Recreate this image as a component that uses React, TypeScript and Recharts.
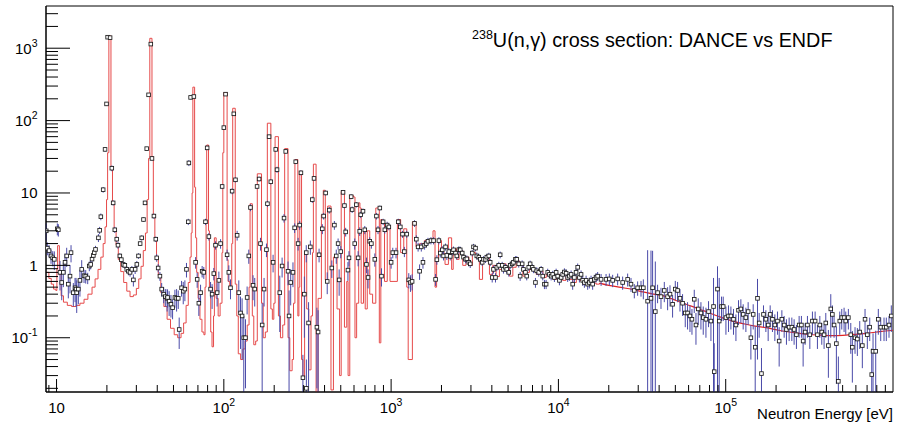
import React from 'react';
import { ComposedChart, Line, Scatter, ErrorBar, XAxis, YAxis, ReferenceArea } from 'recharts';

const X_MIN = 8.65;
const X_MAX = 1.0e6;
const Y_MIN = 0.0178;
const Y_MAX = 3830;
const PLOT_LEFT = 46;
const PLOT_BOTTOM = 392;

// ENDF evaluation, resolved range: bin start energy [eV], capture cross section [b]
const endfResolved: [number, number][] = [
  [8.65, 0.8], [9.0, 0.66], [9.3, 0.55], [9.6, 0.47], [9.9, 0.45], [10.05, 0.9], [10.15, 1.87], [10.4, 0.75],
  [10.65, 0.38], [11.0, 0.31], [11.6, 0.28], [12.3, 0.27], [13.1, 0.28], [13.8, 0.3], [14.6, 0.34], [15.4, 0.4],
  [16.3, 0.5], [17.0, 0.65], [17.7, 0.88], [18.4, 1.3], [19.0, 2.0], [19.5, 3.4], [19.9, 8.1], [20.2, 36],
  [20.55, 1480], [21.15, 23], [21.6, 7.4], [22.1, 3.1], [22.7, 1.9], [23.4, 1.2], [24.2, 0.82], [25.2, 0.58],
  [26.3, 0.44], [27.5, 0.37], [28.8, 0.39], [30.0, 0.48], [31.0, 0.65], [32.0, 0.97], [33.0, 1.6], [34.0, 2.8],
  [34.8, 8.1], [35.5, 30], [36.1, 1370], [37.2, 31.8], [37.9, 4.8], [38.7, 2.3], [39.6, 1.25], [40.6, 0.72],
  [42.0, 0.42], [43.8, 0.27], [45.8, 0.18], [48.0, 0.135], [50.5, 0.11], [53.0, 0.1], [55.5, 0.115], [57.5, 0.16],
  [59.5, 0.28], [61.3, 0.58], [62.8, 1.3], [63.8, 2.8], [64.6, 10], [65.3, 290], [66.9, 12], [67.8, 2.4],
  [68.8, 0.8], [70.2, 0.35], [72.0, 0.18], [74.0, 0.12], [76.0, 0.11], [77.2, 0.5], [78.3, 4.0], [79.0, 46],
  [81.0, 3.0], [82.0, 0.5], [83.5, 0.12], [85.0, 0.075], [86.8, 0.2], [87.8, 2.4], [90.0, 0.35], [92.5, 0.2],
  [95.0, 0.3], [97.5, 1.5], [98.6, 36], [100.0, 244], [104.6, 1.2], [106.0, 0.6], [108.5, 0.5], [111.5, 2.0],
  [113.0, 148], [117.0, 0.55], [119.5, 0.2], [122.0, 0.06], [126.0, 0.05], [130.0, 0.07], [134.0, 0.09], [138.0, 0.15],
  [141.5, 0.5], [143.5, 7.1], [148.0, 0.2], [151.0, 0.08], [155.0, 0.09], [158.5, 18.4], [168.0, 0.3], [172.0, 0.1],
  [177.0, 0.12], [182.0, 92], [191.0, 0.25], [195.0, 0.18], [199.0, 0.3], [202.5, 60], [212.0, 0.2], [218.0, 0.1],
  [225.0, 0.15], [231.0, 41], [242.0, 0.1], [248.0, 0.035], [256.0, 0.05], [261.0, 0.3], [266.0, 29], [277.0, 0.2],
  [281.0, 0.5], [284.5, 20], [291.5, 0.05], [297.0, 0.027], [304.0, 1.5], [313.0, 0.25], [322.0, 0.036], [332.0, 0.2],
  [339.0, 1.5], [343.0, 25], [356.0, 0.015], [366.0, 0.35], [383.0, 5.0], [393.0, 10.9], [404.0, 0.63], [418.0, 6.6],
  [437.0, 0.019], [452.0, 1.3], [475.0, 0.25], [492.0, 0.03], [503.0, 10.5], [526.0, 0.14], [543.0, 0.6], [553.0, 0.03],
  [566.0, 9.2], [595.0, 8.8], [608.0, 0.1], [622.0, 0.3], [640.0, 7.3], [651.0, 6.2], [662.0, 0.3], [684.0, 3.0],
  [700.0, 0.25], [720.0, 3.0], [745.0, 0.4], [775.0, 0.3], [810.0, 6.2], [850.0, 0.085], [868.0, 4.3], [884.0, 4.1],
  [913.0, 0.6], [948.0, 3.5], [985.0, 0.6], [1090, 4.3], [1140, 1.5], [1190, 3.2], [1240, 0.5], [1265, 0.05],
  [1340, 4.0], [1410, 1.8], [1480, 2.0], [1580, 2.2], [1690, 2.2], [1780, 3.0], [1830, 0.5], [1870, 1.2],
  [1920, 2.2], [2000, 1.48], [2100, 1.03], [2200, 2.4], [2300, 0.88], [2350, 1.7], [2460, 1.21], [2550, 1.6],
  [2680, 1.0], [2800, 1.3], [2920, 1.0], [3060, 1.5], [3200, 1.35], [3370, 0.64], [3520, 1.21], [3690, 1.35],
  [3870, 0.75], [4050, 1.0], [4240, 0.7], [4440, 0.88], [4650, 1.05], [4870, 0.94], [5100, 0.71], [5340, 0.94],
  [5590, 1.15], [5850, 1.05], [6130, 0.71], [6420, 0.8], [6720, 0.88], [7040, 0.84], [7370, 0.75], [7710, 0.84],
  [8080, 0.68], [8460, 0.78], [8860, 0.71], [9280, 0.64], [9720, 0.75], [10200, 0.68], [10600, 0.62], [11100, 0.71],
  [11600, 0.64], [12200, 0.58], [12800, 0.68], [13300, 0.62], [14000, 0.55], [14600, 0.62], [15300, 0.58], [16000, 0.57],
  [16800, 0.55], [17600, 0.57],
];

// ENDF evaluation, unresolved / fast range: energy [eV], cross section [b]
const endfSmooth: [number, number][] = [
  [17600, 0.57], [20000, 0.53], [23000, 0.5], [27800, 0.465], [32000, 0.43], [37000, 0.4], [44000, 0.37],
  [50000, 0.33], [58000, 0.29], [69500, 0.25], [80000, 0.22], [92000, 0.195], [110000, 0.17], [130000, 0.155],
  [150000, 0.145], [174000, 0.138], [210000, 0.126], [240000, 0.12], [275000, 0.115], [330000, 0.11], [380000, 0.108],
  [435000, 0.107], [500000, 0.108], [580000, 0.111], [687000, 0.115], [800000, 0.12], [900000, 0.124], [1000000, 0.127],
];

// DANCE measurement: energy [eV], cross section [b], uncertainty [b]
const danceLow: [number, number, number][] = [
  [8.68, 3.0, 0.8], [8.81, 1.73, 0.35], [9.02, 1.6, 0.3], [9.27, 1.35, 0.3], [9.49, 1.27, 0.3], [9.7, 1.21, 0.35],
  [10.11, 3.2, 0.6], [10.25, 3.1, 0.6], [10.49, 0.8, 0.35], [10.74, 0.58, 0.25], [10.98, 0.8, 0.3], [11.24, 1.1, 0.35],
  [11.5, 1.35, 0.4], [11.76, 0.55, 0.2], [12.04, 0.71, 0.3], [12.21, 1.5, 0.4], [12.6, 0.42, 0.15], [12.9, 0.49, 0.18],
  [13.08, 0.47, 0.2], [13.2, 0.42, 0.2], [13.5, 0.47, 0.18], [13.8, 0.62, 0.25], [14.14, 0.88, 0.3], [14.6, 0.72, 0.15],
  [14.94, 0.71, 0.15], [15.36, 0.67, 0.12], [15.7, 0.98, 0.15], [16.0, 1.03, 0.15], [16.3, 1.22, 0.18], [16.6, 1.37, 0.2],
  [16.8, 1.5, 0.2], [17.1, 1.66, 0.2], [17.8, 2.4, 0.3], [18.1, 3.05, 0.35], [18.4, 4.7, 0.5], [19.0, 11.1, 1.0],
  [19.5, 40, 3], [19.9, 170, 10], [20.2, 1420, 60], [20.9, 1400, 60], [21.4, 22, 2], [21.8, 7.3, 0.6],
  [22.3, 3.1, 0.3], [22.9, 2.3, 0.2], [23.3, 1.9, 0.2], [23.9, 1.35, 0.12], [24.4, 1.2, 0.12], [25.0, 1.03, 0.1],
  [25.6, 1.0, 0.1], [26.3, 0.88, 0.1], [26.9, 0.83, 0.1], [27.5, 0.8, 0.1], [28.2, 0.88, 0.1], [28.8, 0.63, 0.12],
  [29.5, 0.88, 0.12], [30.2, 1.03, 0.12], [30.9, 1.35, 0.12], [31.6, 2.0, 0.15], [32.3, 2.4, 0.2], [33.1, 4.3, 0.3],
  [33.8, 7.3, 0.5], [34.6, 41, 2], [35.5, 227, 10], [36.6, 1140, 50], [37.2, 30, 2], [38.2, 4.8, 0.4],
  [39.2, 2.3, 0.2], [39.7, 1.27, 0.15], [40.5, 0.92, 0.12], [41.5, 0.71, 0.1], [42.5, 0.47, 0.1], [43.7, 0.4, 0.1],
  [44.7, 0.37, 0.1], [45.8, 0.35, 0.12], [46.1, 0.36, 0.1], [47.1, 0.32, 0.12], [48.3, 0.29, 0.1], [49.4, 0.26, 0.08],
  [51.0, 0.36, 0.1], [52.2, 0.35, 0.12], [53.4, 0.35, 0.1], [54.1, 0.13, 0.06], [55.9, 0.49, 0.12], [57.2, 0.44, 0.15],
  [58.5, 0.47, 0.15], [59.8, 0.88, 0.2], [61.3, 4.0, 0.4],
];

const danceMid: [number, number, number][] = [
  [61.8, 26, 2.5], [63.3, 209, 12], [66.2, 215, 12], [67.8, 1.1, 0.2], [69.3, 0.64, 0.15], [70.9, 0.3, 0.1],
  [72.6, 0.42, 0.12], [74.2, 0.83, 0.15], [75.9, 0.8, 0.15], [77.7, 4.0, 0.4], [79.5, 42, 3], [81.4, 2.5, 0.3],
  [83.3, 0.47, 0.12], [85.1, 0.4, 0.15], [87.1, 0.77, 0.15], [89.2, 1.9, 0.25], [91.2, 0.42, 0.15], [93.4, 0.62, 0.2],
  [95.6, 2.0, 0.3], [97.7, 12.3, 1.0], [100, 80, 5], [102.4, 232, 12], [104.6, 1.4, 0.25], [107.1, 0.8, 0.2],
  [109.6, 0.49, 0.15], [112.1, 10.6, 1.0], [114.7, 124, 8], [117.4, 15.2, 1.2], [120.1, 2.6, 0.4], [122.9, 0.42, 0.2],
  [125.8, 0.22, 0.15], [128.6, 0.2, 0.15], [131.6, 0.1, 0.1], [134.7, 0.1, 0.08], [137.8, 0.36, 0.15], [141, 1.35, 0.3],
  [144.3, 6.3, 0.7], [149.5, 0.53, 0.2], [153, 0.47, 0.2], [158, 12.3, 1.0], [162.5, 15.6, 1.2], [165.6, 2.0, 0.4],
  [169.5, 0.15, 0.15], [174, 0.47, 0.2], [179.8, 1.65, 0.35], [182.3, 7.1, 0.7], [186.4, 60, 4], [190.9, 14.3, 1.2],
  [197, 1.1, 0.3], [204.3, 40, 3], [208, 21, 2], [216, 0.42, 0.3], [223, 0.98, 0.3], [229, 4.5, 0.6],
  [234.4, 37.5, 2.5], [242, 0.83, 0.3], [245.4, 0.2, 0.25], [251, 0.58, 0.3], [259, 0.8, 0.3], [265, 3.3, 0.5],
  [269, 27, 2], [278, 2.0, 0.4],
];

const danceHigh: [number, number, number][] = [
  [284, 3.6, 0.5], [289, 19, 1.5], [297, 0.028, 0.03], [303, 0.4, 0.3], [311, 1.5, 0.4], [311.5, 0.02, 0.03],
  [321, 0.16, 0.15], [329, 1.8, 0.4], [338, 8.1, 0.8], [346, 15.9, 1.2], [360, 0.14, 0.12], [366, 0.12, 0.12],
  [371, 1.4, 0.3], [388, 3.2, 0.5], [395, 4.8, 0.5], [406, 10, 0.8], [415, 0.6, 0.2], [427, 5.8, 0.6],
  [442, 0.92, 0.25], [458, 3.6, 0.5], [470, 1.35, 0.3], [482, 2.0, 0.35], [489, 0.63, 0.25], [500, 1.55, 0.3],
  [516, 10.2, 0.8], [526, 6.7, 0.6], [535, 2.9, 0.4], [552, 0.86, 0.25], [560, 1.27, 0.3], [577, 8.9, 0.7],
  [585, 5.9, 0.6], [606, 2.0, 0.35], [620, 6.9, 0.6], [635, 1.27, 0.3], [649, 2.95, 0.4], [658, 5.0, 0.5],
  [679, 5.6, 0.5], [696, 3.1, 0.4], [712, 1.03, 0.25], [728, 0.68, 0.2], [745, 2.15, 0.3], [762, 2.0, 0.3],
  [799, 1.21, 0.25], [817, 4.8, 0.5], [835, 3.1, 0.4], [856, 6.2, 0.5], [876, 0.71, 0.2], [896, 4.0, 0.4],
  [917, 3.1, 0.35], [947, 3.6, 0.4], [969, 3.4, 0.35], [1000, 1.1, 0.2], [1023, 1.5, 0.25], [1070, 1.5, 0.25],
  [1104, 4.0, 0.4], [1135, 3.4, 0.35], [1170, 2.7, 0.3], [1200, 1.55, 0.25], [1240, 2.7, 0.3], [1275, 0.63, 0.15],
  [1305, 0.58, 0.15], [1335, 0.6, 0.15], [1380, 3.8, 0.4], [1415, 2.3, 0.3], [1450, 1.8, 0.25], [1480, 0.83, 0.2],
  [1515, 1.8, 0.25], [1550, 1.1, 0.2], [1585, 1.9, 0.25], [1620, 2.0, 0.25], [1660, 2.15, 0.25],
];

const danceKeV: [number, number, number][] = [
  [1730, 2.2, 0.25], [1793, 2.2, 0.25], [1844, 0.64, 0.12], [1877, 1.2, 0.18], [1930, 2.2, 0.25], [1967, 1.48, 0.2],
  [2022, 1.64, 0.2], [2058, 1.35, 0.18], [2115, 1.8, 0.2], [2153, 1.37, 0.18], [2213, 1.55, 0.18], [2256, 1.33, 0.16],
  [2320, 1.55, 0.18], [2361, 1.64, 0.18], [2427, 1.48, 0.16], [2470, 1.35, 0.15], [2540, 1.65, 0.18], [2589, 1.64, 0.17],
  [2661, 1.48, 0.16], [2709, 1.3, 0.15], [2785, 1.21, 0.14], [2835, 1.23, 0.14], [2914, 1.1, 0.13], [2971, 1.05, 0.13],
  [3053, 1.48, 0.15], [3108, 1.8, 0.18], [3195, 1.73, 0.17], [3252, 1.35, 0.15], [3343, 1.3, 0.14], [3408, 1.21, 0.13],
  [3503, 1.1, 0.12], [3566, 1.21, 0.13], [3666, 1.21, 0.13], [3732, 1.3, 0.14], [3836, 1.35, 0.14], [3910, 1.1, 0.12],
  [4020, 0.68, 0.1], [4092, 0.88, 0.11], [4206, 0.68, 0.1], [4282, 0.94, 0.11], [4401, 1.0, 0.12], [4486, 1.4, 0.15],
  [4612, 1.0, 0.12], [4694, 0.88, 0.11], [4826, 0.94, 0.11], [4912, 0.88, 0.11], [5050, 0.8, 0.1], [5147, 1.0, 0.12],
  [5291, 1.05, 0.12], [5386, 1.1, 0.12], [5537, 1.21, 0.13], [5636, 1.21, 0.13], [5794, 1.05, 0.12], [5906, 0.71, 0.1],
  [6071, 1.05, 0.12], [6180, 0.88, 0.1], [6353, 0.8, 0.1], [6467, 0.71, 0.09], [6648, 0.94, 0.1], [6776, 1.05, 0.11],
  [6966, 0.94, 0.1], [7091, 0.88, 0.1], [7290, 0.58, 0.09], [7420, 0.84, 0.1], [7628, 0.8, 0.1], [7883, 0.88, 0.1],
  [8059, 0.71, 0.09], [8249, 0.55, 0.08], [8445, 0.55, 0.08], [8632, 0.8, 0.1], [8838, 0.75, 0.09], [9046, 0.71, 0.09],
  [9248, 0.75, 0.09], [9465, 0.68, 0.09], [9690, 0.8, 0.1], [9904, 0.71, 0.09], [10140, 0.62, 0.09], [10378, 0.68, 0.09],
  [10610, 0.75, 0.1], [10860, 0.81, 0.1], [11120, 0.78, 0.1], [11360, 0.68, 0.09], [11630, 0.71, 0.1], [11910, 0.75, 0.1],
  [12170, 0.55, 0.09], [12460, 0.68, 0.1], [12750, 0.8, 0.1], [13040, 0.94, 0.12], [13350, 0.68, 0.1], [13660, 0.75, 0.1],
  [13970, 0.62, 0.1], [14300, 0.58, 0.09], [14640, 0.62, 0.1], [14960, 0.55, 0.09], [15310, 0.58, 0.1], [15670, 0.62, 0.1],
  [16020, 0.55, 0.09], [16400, 0.64, 0.1], [16790, 0.68, 0.1], [17160, 0.71, 0.1],
];

const danceFast: [number, number, number][] = [
  [17990, 0.64, 0.12], [19270, 0.64, 0.12], [20160, 0.65, 0.12], [21100, 0.62, 0.12], [22600, 0.65, 0.12], [24210, 0.58, 0.12],
  [25930, 0.64, 0.13], [27160, 0.55, 0.12], [28420, 0.45, 0.1], [29750, 0.49, 0.11], [31170, 0.49, 0.12], [32180, 0.49, 0.15],
  [34140, 0.32, 1.3], [35760, 0.35, 1.25], [36560, 0.49, 1.1], [37950, 0.23, 0.9], [39160, 0.42, 0.12], [41040, 0.37, 0.12],
  [42950, 0.45, 0.14], [44950, 0.37, 0.13], [46450, 0.4, 0.13], [48140, 0.29, 0.1], [49960, 0.47, 0.14], [51560, 0.45, 0.14],
  [53290, 0.35, 0.12], [55230, 0.3, 0.1], [57310, 0.22, 0.08], [59150, 0.22, 0.09], [61140, 0.2, 0.08], [62840, 0.18, 0.07],
  [64860, 0.34, 0.12], [66400, 0.15, 0.07], [68520, 0.25, 0.1], [71110, 0.22, 0.09], [73410, 0.19, 0.08], [76180, 0.18, 0.08],
  [78950, 0.23, 0.09], [81590, 0.17, 0.08], [84570, 0.27, 0.4], [85390, 0.034, 0.05], [89330, 0.47, 0.5], [91450, 0.17, 0.5],
  [94390, 0.27, 0.1], [96620, 0.27, 0.1], [100300, 0.19, 0.08], [103900, 0.2, 0.08], [107400, 0.2, 0.07], [111300, 0.18, 0.07],
  [115100, 0.15, 0.06], [119300, 0.24, 0.09], [123200, 0.25, 0.09], [127200, 0.21, 0.08], [132000, 0.19, 0.07], [136200, 0.23, 0.08],
  [141400, 0.1, 0.05], [146000, 0.21, 0.08], [150100, 0.074, 0.07], [154900, 0.35, 0.3], [158500, 0.16, 0.06], [163600, 0.032, 0.04],
  [168200, 0.21, 0.07], [173800, 0.18, 0.06], [179400, 0.15, 0.06], [184400, 0.21, 0.07], [190300, 0.18, 0.06], [196700, 0.15, 0.06],
  [203900, 0.17, 0.06], [208700, 0.09, 0.05], [216600, 0.18, 0.06], [223600, 0.15, 0.05], [230700, 0.13, 0.05], [239400, 0.14, 0.05],
  [248500, 0.14, 0.05], [256400, 0.13, 0.05], [264700, 0.11, 0.04], [274700, 0.15, 0.05], [283500, 0.15, 0.05], [290300, 0.09, 0.05],
  [298400, 0.12, 0.04], [308000, 0.15, 0.05], [318300, 0.11, 0.04], [329900, 0.17, 0.06], [342400, 0.17, 0.06], [353400, 0.11, 0.04],
  [365300, 0.15, 0.05], [375200, 0.12, 0.04], [387300, 0.11, 0.04], [396500, 0.16, 0.06], [410900, 0.078, 0.05], [424700, 0.25, 0.15],
  [434100, 0.21, 0.07], [444400, 0.15, 0.05], [458700, 0.083, 0.06], [471400, 0.025, 0.03], [480600, 0.17, 0.06], [494000, 0.19, 0.06],
  [510000, 0.19, 0.07], [521900, 0.17, 0.06], [541000, 0.19, 0.06], [559200, 0.11, 0.05], [571500, 0.074, 0.05], [593100, 0.1, 0.04],
  [612200, 0.096, 0.04], [632700, 0.12, 0.05], [655700, 0.078, 0.04], [680500, 0.18, 0.07], [702400, 0.11, 0.04], [726000, 0.14, 0.05],
  [746200, 0.031, 0.04], [759700, 0.065, 0.05], [788400, 0.065, 0.06], [817000, 0.18, 0.07], [844600, 0.14, 0.05], [883800, 0.14, 0.05],
  [912000, 0.14, 0.05], [946500, 0.15, 0.05], [977000, 0.2, 0.08],
];

// axis decorations
const xMajorTicks = [10, 100, 1000, 10000, 100000];
const xMajorLabels: [string, string][] = [['10', ''], ['10', '2'], ['10', '3'], ['10', '4'], ['10', '5']];
const yMajorTicks = [0.1, 1, 10, 100, 1000];
const yMajorLabels: [string, string][] = [['10', '-1'], ['1', ''], ['10', ''], ['10', '2'], ['10', '3']];
const minorDigits = [2, 3, 4, 5, 6, 7, 8, 9];

const xMinor = [9, ...[10, 100, 1000, 10000, 100000].flatMap((d) => minorDigits.map((m) => m * d))];
const yMinor = [0.01, 0.1, 1, 10, 100, 1000]
  .flatMap((d) => minorDigits.map((m) => m * d))
  .filter((v) => v > Y_MIN && v < Y_MAX);
const xTicks = [...xMinor, ...xMajorTicks].sort((a, b) => a - b);
const yTicks = [...yMinor, ...yMajorTicks].sort((a, b) => a - b);

const endfStepData = endfResolved.map(([e, xs]) => ({ e, xs }));
const endfSmoothData = endfSmooth.map(([e, xs]) => ({ e, xs }));
const danceData = [...danceLow, ...danceMid, ...danceHigh, ...danceKeV, ...danceFast].map(([e, xs, err]) => ({
  e,
  xs,
  // lower end stops at the frame so the log scale never sees a value <= 0
  err: [Math.min(err, xs - Y_MIN), err],
}));

const FONT = '"Liberation Sans", Arial, Helvetica, sans-serif';
const RED = '#e64a4a';
const RED_DARK = '#e02424';
const BLUE = '#4a4aa8';

const XTick = (props: any) => {
  const { x, payload } = props;
  const idx = xMajorTicks.indexOf(payload.value);
  const major = idx >= 0;
  return (
    <g>
      <line x1={x} x2={x} y1={PLOT_BOTTOM} y2={PLOT_BOTTOM - (major ? 13 : 7)} stroke="#000" strokeWidth={1} />
      {major && (
        <text x={x} y={413} textAnchor="middle" fontSize={15} fill="#000" fontFamily={FONT}>
          <tspan>{xMajorLabels[idx][0]}</tspan>
          {xMajorLabels[idx][1] && (
            <tspan dy={-7} fontSize={10.5}>
              {xMajorLabels[idx][1]}
            </tspan>
          )}
        </text>
      )}
    </g>
  );
};

const YTick = (props: any) => {
  const { y, payload } = props;
  const idx = yMajorTicks.indexOf(payload.value);
  const major = idx >= 0;
  return (
    <g>
      <line x1={PLOT_LEFT} x2={PLOT_LEFT + (major ? 24 : 12)} y1={y} y2={y} stroke="#000" strokeWidth={1} />
      {major && (
        <text x={37.5} y={y + 5.5} textAnchor="end" fontSize={15} fill="#000" fontFamily={FONT}>
          <tspan>{yMajorLabels[idx][0]}</tspan>
          {yMajorLabels[idx][1] && (
            <tspan dy={-7} fontSize={10.5}>
              {yMajorLabels[idx][1]}
            </tspan>
          )}
        </text>
      )}
    </g>
  );
};

// hollow square marker, white inside so the error bar stops at its edge
const OpenSquare = (props: any) => {
  const { cx, cy } = props;
  if (cx == null || cy == null) return null;
  return <rect x={cx - 1.8} y={cy - 1.8} width={3.6} height={3.6} fill="#fff" stroke="#1a1a1a" strokeWidth={0.85} />;
};

export default function App() {
  return (
    <div style={{ position: 'absolute', left: 0, top: 0, width: 902, height: 430, background: '#fff', fontFamily: FONT }}>
      <ComposedChart width={902} height={430} margin={{ top: 6, right: 9, bottom: 0, left: 0 }}>
        <XAxis
          type="number"
          dataKey="e"
          scale="log"
          domain={[X_MIN, X_MAX]}
          allowDataOverflow
          ticks={xTicks}
          interval={0}
          tick={<XTick />}
          tickLine={false}
          axisLine={{ stroke: '#000' }}
          height={38}
        />
        <YAxis
          type="number"
          dataKey="xs"
          scale="log"
          domain={[Y_MIN, Y_MAX]}
          allowDataOverflow
          ticks={yTicks}
          interval={0}
          tick={<YTick />}
          tickLine={false}
          axisLine={{ stroke: '#000' }}
          width={46}
        />
        <Line
          data={endfStepData}
          dataKey="xs"
          type="stepAfter"
          stroke={RED}
          strokeWidth={1}
          dot={false}
          activeDot={false}
          isAnimationActive={false}
        />
        <Line
          data={endfSmoothData}
          dataKey="xs"
          type="monotone"
          stroke={RED_DARK}
          strokeWidth={1.2}
          dot={false}
          activeDot={false}
          isAnimationActive={false}
        />
        <Scatter data={danceData} dataKey="xs" shape={<OpenSquare />} isAnimationActive={false}>
          <ErrorBar dataKey="err" direction="y" width={0} stroke={BLUE} strokeWidth={1} isAnimationActive={false} />
        </Scatter>
        <ReferenceArea x1={X_MIN} x2={X_MAX} y1={Y_MIN} y2={Y_MAX} fill="none" stroke="#000" strokeWidth={1} />
      </ComposedChart>
      <svg width={902} height={430} style={{ position: 'absolute', left: 0, top: 0, pointerEvents: 'none' }}>
        <text x={472} y={47} fontSize={19.8} fill="#000" fontFamily={FONT}>
          <tspan fontSize={12.5} dy={-8}>
            238
          </tspan>
          <tspan dy={8}>U(n,γ) cross section: DANCE vs ENDF</tspan>
        </text>
        <text x={893} y={419} textAnchor="end" fontSize={15} fill="#000" fontFamily={FONT}>
          Neutron Energy [eV]
        </text>
      </svg>
    </div>
  );
}
